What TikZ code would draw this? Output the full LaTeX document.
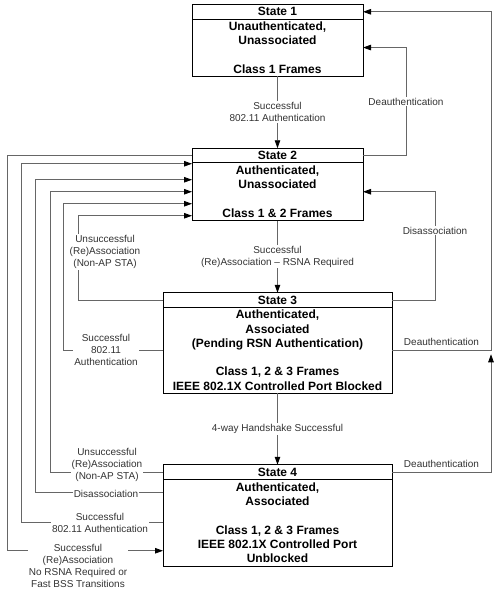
\documentclass[tikz,border=0pt]{standalone}
\usepackage{fontspec}
\setmainfont{Liberation Sans}
\usetikzlibrary{arrows.meta,positioning}

\begin{document}
\begin{tikzpicture}[
  x=1pt, y=-1pt,
  >={Triangle[length=8pt,width=5.5pt,color=black]},
  statehead/.style={draw, line width=1pt, inner sep=0pt, outer sep=0pt, minimum height=14.5pt, font=\fontsize{12}{14.3}\selectfont\bfseries},
  statebody/.style={draw, line width=1pt, inner sep=0pt, outer sep=0pt, align=center, font=\fontsize{12}{14.3}\selectfont\bfseries},
  trans/.style={->, draw=black!60, line width=0.85pt},
  lbl/.style={fill=white, inner sep=1pt, align=center, text=black!80, font=\fontsize{10}{12}\selectfont}]

\useasboundingbox (0,0) rectangle (501,591);

% states
\node[statehead, minimum width=171pt] (s1t) at (277.5,11.8) {State 1};
\node[statebody, minimum width=171pt, minimum height=57pt, below=0pt of s1t] (s1) {Unauthenticated,\\Unassociated\\[14.3pt]Class 1 Frames};

\node[statehead, minimum width=171pt] (s2t) at (277.5,155.5) {State 2};
\node[statebody, minimum width=171pt, minimum height=58pt, below=0pt of s2t] (s2) {Authenticated,\\Unassociated\\[14.3pt]Class 1 \& 2 Frames};

\node[statehead, minimum width=229pt] (s3t) at (277.5,300) {State 3};
\node[statebody, minimum width=229pt, minimum height=86pt, below=0pt of s3t] (s3) {Authenticated,\\Associated\\(Pending RSN Authentication)\\[14.3pt]Class 1, 2 \& 3 Frames\\IEEE 802.1X Controlled Port Blocked};

\node[statehead, minimum width=229pt] (s4t) at (277.5,472) {State 4};
\node[statebody, minimum width=229pt, minimum height=87pt, below=0pt of s4t] (s4) {Authenticated,\\Associated\\[14.3pt]Class 1, 2 \& 3 Frames\\IEEE 802.1X Controlled Port\\Unblocked};

% down the middle
\draw[trans] (s1) -- node[lbl] (m1) {Successful\\802.11 Authentication} (s2t);
\draw[trans] (s2) -- node[lbl] (m2) {Successful\\(Re)Association -- RSNA Required} (s3t);
\draw[trans] (s3) -- node[lbl] (m3) {4-way Handshake Successful} (s4t);

% right side
\coordinate (rj) at ([xshift=99pt]s3.east);
\draw[trans] (s2t.east) -- ++(43,0) |- node[lbl, pos=0.25] (r1) {Deauthentication} (s1.east);
\draw[trans] (s3t.east) -- ++(43,0) |- node[lbl, pos=0.32] (r2) {Disassociation} (s2.east);
\draw[trans] (s3.east) -- node[lbl, above=3pt] (r3) {Deauthentication} (rj) |- (s1t.east);
\draw[trans] (s4t.east) -| node[lbl, above=3pt, pos=0.25] (r4) {Deauthentication} ([yshift=-4pt]rj);

% left side
\draw[trans] (s3t.west) -- ++(-85,0) |- ([yshift=-24pt]s2.west);
\draw[trans] (s3.west) -- ++(-100,0) |- ([yshift=-12pt]s2.west);
\draw[trans] (s4t.west) -- ++(-113,0) |- (s2.west);
\draw[trans] ([yshift=30pt]s4.west) -- ++(-128,0) |- ([yshift=12pt]s2.west);
\draw[trans] (s4.west) -- ++(-142,0) |- ([yshift=28pt]s2.west);
\draw[trans] (s2t.west) -- ++(-185,0) |- ([yshift=-28pt]s4.west);

\node[lbl] (l1) at (105,252) {Unsuccessful\\(Re)Association\\(Non-AP STA)};
\node[lbl] (l2) at (106,350) {Successful\\802.11\\Authentication};
\node[lbl] (l3) at (107,465) {Unsuccessful\\(Re)Association\\(Non-AP STA)};
\node[lbl] (l4) at (106,494) {Disassociation};
\node[lbl] (l5) at (100,523) {Successful\\802.11 Authentication};
\node[lbl] (l6) at (78,565.5) {Successful\\(Re)Association\\No RSNA Required or\\Fast BSS Transitions};

\end{tikzpicture}
\end{document}
